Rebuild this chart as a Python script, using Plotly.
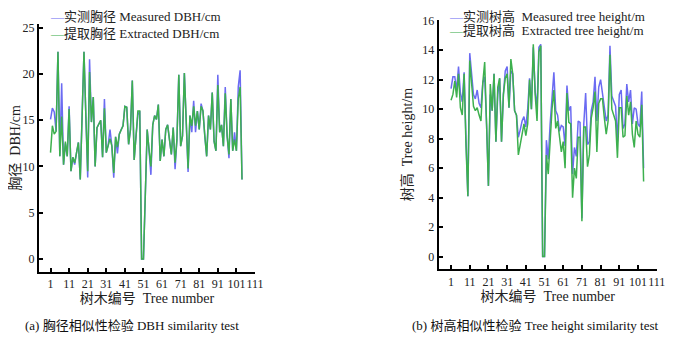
import plotly.graph_objects as go

trees = list(range(1, 105))

dbh_measured = [15.1, 16.3, 15.9, 13.8, 22.4, 11.1, 19.0, 10.2, 12.5, 11.1,
                16.5, 9.5, 11.0, 10.2, 11.5, 12.6, 8.6, 15.0, 22.4, 15.5,
                8.8, 21.6, 14.8, 17.5, 10.0, 14.2, 14.6, 15.0, 11.0, 17.3,
                11.5, 12.3, 14.0, 12.2, 8.8, 13.2, 11.4, 13.5, 14.0, 14.4,
                16.5, 16.4, 12.4, 14.0, 19.3, 10.7, 13.3, 15.6, 16.0, 0.0,
                0.0, 7.0, 14.0, 11.8, 9.1, 14.5, 15.5, 15.1, 16.7, 10.6,
                12.9, 11.1, 14.0, 14.5, 12.9, 11.3, 14.2, 9.7, 12.9, 19.9,
                12.2, 13.3, 20.1, 14.8, 9.4, 15.5, 13.7, 17.1, 13.7, 16.0,
                14.0, 16.8, 16.0, 13.3, 11.1, 15.5, 14.0, 18.0, 12.7, 11.7,
                19.9, 13.7, 14.5, 12.2, 18.6, 13.3, 10.9, 17.3, 11.7, 13.7,
                11.7, 18.6, 20.4, 8.6]

dbh_extracted = [11.5, 14.4, 13.5, 13.8, 22.4, 11.1, 15.4, 10.2, 12.7, 11.1,
                 16.2, 9.5, 11.0, 10.4, 11.5, 12.6, 8.6, 15.0, 22.4, 15.5,
                 9.5, 20.2, 14.8, 17.5, 10.0, 14.2, 14.6, 15.0, 11.0, 16.3,
                 11.5, 12.3, 13.0, 12.2, 9.3, 13.2, 12.1, 13.5, 14.0, 14.4,
                 16.5, 16.4, 12.4, 14.0, 19.3, 10.7, 13.3, 16.0, 16.0, 0.0,
                 0.0, 7.0, 14.0, 11.8, 10.0, 14.5, 15.5, 15.1, 16.7, 10.6,
                 12.9, 11.1, 14.0, 14.5, 12.9, 11.3, 14.2, 10.4, 12.9, 19.9,
                 12.2, 13.3, 20.1, 14.8, 9.8, 15.5, 14.4, 16.5, 14.4, 16.0,
                 14.0, 16.5, 16.0, 13.3, 11.1, 15.5, 14.0, 18.0, 12.7, 11.7,
                 18.8, 13.7, 14.5, 12.2, 17.9, 13.3, 11.3, 17.3, 11.7, 12.9,
                 11.7, 17.3, 18.6, 8.6]

height_measured = [11.4, 12.2, 12.2, 11.3, 12.9, 11.1, 10.5, 12.5, 8.0, 4.1,
                   13.8, 12.1, 11.0, 10.7, 11.3, 10.4, 10.1, 11.8, 12.2, 9.0,
                   4.8, 11.0, 9.9, 12.4, 7.8, 11.0, 12.1, 7.8, 11.0, 12.6,
                   12.9, 10.1, 12.6, 12.4, 9.9, 9.6, 8.1, 8.6, 9.2, 9.5,
                   8.8, 10.0, 12.1, 10.0, 14.2, 11.2, 10.1, 14.2, 14.4, 0.0,
                   0.0, 7.9, 6.6, 9.0, 11.0, 12.5, 9.9, 9.6, 8.5, 8.9,
                   8.8, 7.5, 11.6, 9.9, 10.2, 5.6, 7.4, 6.8, 9.2, 9.1,
                   2.6, 9.0, 11.1, 7.6, 7.8, 9.9, 10.5, 12.2, 9.2, 11.5,
                   12.0, 11.0, 9.9, 9.2, 9.6, 14.3, 10.9, 10.5, 10.2, 7.8,
                   11.0, 11.3, 8.7, 9.0, 11.7, 10.5, 11.3, 9.0, 10.1, 10.0,
                   9.0, 8.8, 11.2, 6.0]

height_extracted = [10.6, 11.0, 11.9, 10.8, 12.4, 10.1, 9.6, 12.4, 7.5, 4.1,
                    13.3, 11.5, 10.2, 9.9, 10.1, 9.6, 9.2, 11.8, 13.2, 9.0,
                    4.8, 11.7, 9.9, 12.4, 7.8, 11.5, 12.1, 7.8, 11.0, 12.1,
                    12.4, 10.1, 13.4, 12.4, 9.9, 9.6, 6.9, 7.6, 8.2, 9.0,
                    8.2, 9.0, 12.0, 10.0, 14.4, 11.0, 9.2, 13.9, 14.3, 0.0,
                    0.0, 6.9, 5.6, 8.0, 10.0, 11.3, 8.7, 9.2, 7.9, 7.1,
                    7.8, 6.0, 11.1, 9.1, 9.0, 4.0, 6.0, 5.3, 8.1, 8.1,
                    2.4, 8.8, 8.8, 6.1, 6.9, 9.4, 10.1, 11.2, 7.1, 10.4,
                    10.7, 10.7, 9.4, 8.3, 9.2, 13.7, 10.0, 9.6, 9.2, 6.7,
                    10.1, 10.1, 8.1, 8.2, 10.9, 9.6, 10.5, 8.3, 7.4, 9.2,
                    8.3, 8.1, 10.3, 5.1]

x_ticks = list(range(1, 112, 10))
dbh_ticks = [0, 5, 10, 15, 20, 25]
height_ticks = [0, 2, 4, 6, 8, 10, 12, 14, 16]

BLUE = "#6b6bf2"
GREEN = "#3db04e"
SERIF = "Liberation Serif, Times New Roman, Noto Sans CJK SC, serif"

# page body has an 8px margin; size the figure so it fills the rest of the window
OFF = 8
W, H = 673 - OFF, 339 - OFF


def fx(px):
    return (px - OFF) / W


def fy(py):
    return 1 - (py - OFF) / H


fig = go.Figure()
fig.add_trace(go.Scatter(x=trees, y=dbh_measured, mode="lines", name="实测胸径 Measured DBH/cm",
                         line=dict(color=BLUE, width=1.5), xaxis="x", yaxis="y", showlegend=False))
fig.add_trace(go.Scatter(x=trees, y=dbh_extracted, mode="lines", name="提取胸径 Extracted DBH/cm",
                         line=dict(color=GREEN, width=1.5), xaxis="x", yaxis="y", showlegend=False))
fig.add_trace(go.Scatter(x=trees, y=height_measured, mode="lines", name="实测树高 Measured tree height/m",
                         line=dict(color=BLUE, width=1.5), xaxis="x2", yaxis="y2", showlegend=False))
fig.add_trace(go.Scatter(x=trees, y=height_extracted, mode="lines", name="提取树高 Extracted tree height/m",
                         line=dict(color=GREEN, width=1.5), xaxis="x2", yaxis="y2", showlegend=False))

axis_common = dict(showline=True, linecolor="black", linewidth=2, ticks="inside", ticklen=4,
                   tickcolor="black", tickwidth=1.5, showgrid=False, zeroline=False,
                   automargin=False, tickangle=0,
                   tickfont=dict(family=SERIF, size=12, color="#222"))

title_font = dict(family=SERIF, size=14, color="#222")

fig.update_layout(
    width=W, height=H,
    margin=dict(l=0, r=0, t=0, b=0, autoexpand=False),
    paper_bgcolor="white", plot_bgcolor="white",
    xaxis=dict(domain=[fx(39), fx(255)], range=[-5.2, 111], tickvals=x_ticks,
               anchor="y", title=dict(text="树木编号  Tree number", standoff=0, font=title_font),
               **axis_common),
    yaxis=dict(domain=[fy(271.7), fy(24)], range=[-1.37, 25.4], tickvals=dbh_ticks,
               anchor="x", title=dict(text="胸径  DBH/cm", standoff=6, font=title_font),
               **axis_common),
    xaxis2=dict(domain=[fx(438.7), fx(656.7)], range=[-5.6, 111], tickvals=x_ticks,
                anchor="y2", title=dict(text="树木编号  Tree number", standoff=0, font=title_font),
                **axis_common),
    yaxis2=dict(domain=[fy(269.3), fy(20)], range=[-0.86, 16.05], tickvals=height_ticks,
                anchor="x2", title=dict(text="树高  Tree height/m", standoff=6, font=title_font),
                **axis_common),
)

legend_font = dict(family=SERIF, size=13, color="#222")
legend_items = [
    (48, 17, BLUE, "实测胸径 Measured DBH/cm"),
    (48, 33, GREEN, "提取胸径 Extracted DBH/cm"),
    (447, 16, BLUE, "实测树高  Measured tree height/m"),
    (447, 31, GREEN, "提取树高  Extracted tree height/m"),
]
for px, py, col, txt in legend_items:
    fig.add_annotation(x=fx(px), y=fy(py), xref="paper", yref="paper",
                       xanchor="left", yanchor="middle", showarrow=False,
                       text=f"<span style='color:{col}'>—</span>{txt}", font=legend_font)

cap_font = dict(family=SERIF, size=13, color="#111")
fig.add_annotation(x=fx(23), y=fy(325), xref="paper", yref="paper", xanchor="left",
                   yanchor="middle", showarrow=False,
                   text="(a) 胸径相似性检验 DBH similarity test", font=cap_font)
fig.add_annotation(x=fx(410), y=fy(325), xref="paper", yref="paper", xanchor="left",
                   yanchor="middle", showarrow=False,
                   text="(b) 树高相似性检验 Tree height similarity test", font=cap_font)

fig.write_html("out.html")
